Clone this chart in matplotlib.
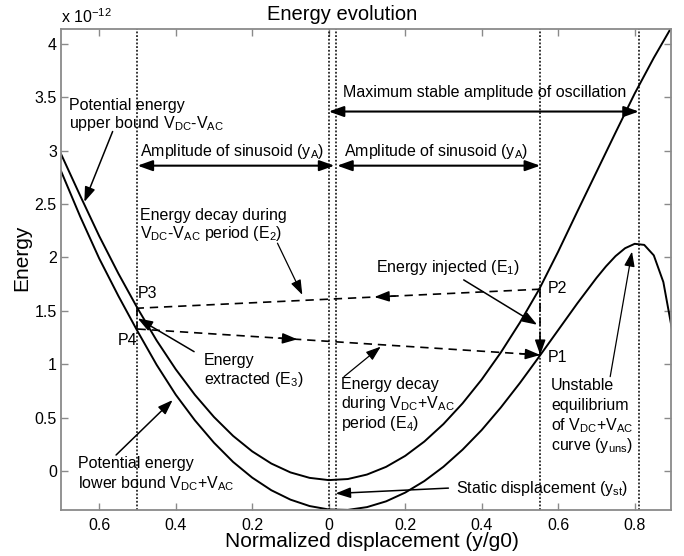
import matplotlib
matplotlib.use('Agg')
import matplotlib.pyplot as plt

plt.rcParams['font.family'] = ['Liberation Sans', 'DejaVu Sans']
plt.rcParams['mathtext.fontset'] = 'custom'
plt.rcParams['mathtext.rm'] = 'Liberation Sans'
plt.rcParams['mathtext.it'] = 'Liberation Sans'
plt.rcParams['mathtext.default'] = 'regular'

# ---------------- data (energy in units of 1e-12) ----------------
x_upper = [-0.70, -0.65, -0.60, -0.55, -0.50, -0.45, -0.40, -0.35, -0.30, -0.25,
           -0.20, -0.15, -0.10, -0.05, 0.00, 0.05, 0.10, 0.15, 0.20, 0.25,
           0.30, 0.35, 0.40, 0.45, 0.50, 0.55, 0.60, 0.65, 0.70, 0.75,
           0.80, 0.85, 0.90]
energy_upper = [2.97, 2.58, 2.20, 1.85, 1.525, 1.223, 0.953, 0.714, 0.506, 0.329,
                0.184, 0.070, -0.013, -0.064, -0.085, -0.075, -0.033, 0.039, 0.142, 0.276,
                0.440, 0.634, 0.857, 1.110, 1.391, 1.700, 2.055, 2.430, 2.800, 3.170,
                3.535, 3.870, 4.180]

x_lower = [-0.70, -0.65, -0.60, -0.55, -0.50, -0.45, -0.40, -0.35, -0.30, -0.25,
           -0.20, -0.15, -0.10, -0.05, 0.00, 0.05, 0.10, 0.15, 0.20, 0.25,
           0.30, 0.35, 0.40, 0.45, 0.50, 0.55, 0.60, 0.65, 0.70, 0.725,
           0.75, 0.775, 0.80, 0.825, 0.85, 0.875, 0.90]
energy_lower = [2.81, 2.385, 1.99, 1.64, 1.31, 0.995, 0.715, 0.475, 0.265, 0.085,
                -0.062, -0.180, -0.268, -0.328, -0.360, -0.364, -0.338, -0.284, -0.202, -0.094,
                0.040, 0.200, 0.384, 0.595, 0.825, 1.07, 1.32, 1.57, 1.808, 1.917,
                2.013, 2.087, 2.128, 2.118, 2.02, 1.77, 1.28]

# key positions (normalized displacement)
y_amp_left = -0.5
y_zero = 0.0
y_static = 0.019
y_amp_right = 0.553
y_unstable = 0.811
vlines_x = [y_amp_left, y_zero, y_static, y_amp_right, y_unstable]

P1 = (0.553, 1.087)
P2 = (0.553, 1.703)
P3 = (-0.5, 1.525)
P4 = (-0.5, 1.33)

xticks = [-0.6, -0.4, -0.2, 0.0, 0.2, 0.4, 0.6, 0.8]
xtick_labels = ['0.6', '0.4', '0.2', '0', '0.2', '0.4', '0.6', '0.8']
yticks = [0, 0.5, 1, 1.5, 2, 2.5, 3, 3.5, 4]
ytick_labels = ['0', '0.5', '1', '1.5', '2', '2.5', '3', '3.5', '4']

# ---------------- figure ----------------
fig = plt.figure(figsize=(6.84, 5.56), dpi=100)
ax = fig.add_axes([61 / 684, 1 - 510 / 556, 610 / 684, 481 / 556])
ax.set_xlim(-0.70, 0.895)
ax.set_ylim(-0.365, 4.14)

for s in ax.spines.values():
    s.set_color('#8a8a8a')
    s.set_linewidth(1.3)
ax.tick_params(direction='in', length=5, width=1, color='#8a8a8a',
               top=True, right=True, labelsize=11.5, labelcolor='k')
ax.tick_params(axis='x', pad=6)
ax.tick_params(axis='y', pad=3)
ax.set_xticks(xticks)
ax.set_xticklabels(xtick_labels)
ax.set_yticks(yticks)
ax.set_yticklabels(ytick_labels)

# curves
ax.plot(x_upper, energy_upper, color='k', lw=1.4, solid_joinstyle='round')
ax.plot(x_lower, energy_lower, color='k', lw=1.4, solid_joinstyle='round')

# dotted verticals
for xv in vlines_x:
    ax.axvline(xv, color='k', lw=1.1, ls=(0, (1.2, 1.2)))

# dashed energy paths
dash = (0, (5, 3.5))
ax.plot([P2[0], P3[0]], [P2[1], P3[1]], color='k', lw=1.2, ls=dash)
ax.plot([P4[0], P1[0]], [P4[1], P1[1]], color='k', lw=1.2, ls=dash)
ax.plot([P2[0], P1[0]], [P2[1], P1[1]], color='k', lw=1.2, ls=dash)
ax.plot([P3[0], P4[0]], [P3[1], P4[1]], color='k', lw=1.2, ls=dash)

AST = '-|>,head_length=0.9,head_width=0.32'
DST = '<|-|>,head_length=0.9,head_width=0.32'


def arrow(tip, tail, style=AST, lw=1.1):
    ax.annotate('', xy=tip, xytext=tail,
                arrowprops=dict(arrowstyle=style, color='k', lw=lw,
                                shrinkA=0, shrinkB=0, mutation_scale=10))


def point_on(a, b, t):
    return (a[0] + (b[0] - a[0]) * t, a[1] + (b[1] - a[1]) * t)


# heads along the dashed lines
tip = point_on(P2, P3, 0.412)
arrow(tip, point_on(P2, P3, 0.36))
tip = point_on(P4, P1, 0.397)
arrow(tip, point_on(P4, P1, 0.35))
arrow(P1, point_on(P4, P1, 0.95))
arrow(P1, (P1[0], P1[1] + 0.15))

# double arrows
arrow((y_unstable, 3.367), (0.0, 3.367), style=DST, lw=1.5)
arrow((0.015, 2.86), (y_amp_left, 2.86), style=DST, lw=1.5)
arrow((y_amp_right, 2.86), (0.022, 2.86), style=DST, lw=1.5)

# annotation arrows
arrow((-0.639, 2.52), (-0.565, 3.18))
arrow((-0.069, 1.65), (-0.134, 2.134), lw=0.9)
arrow((0.545, 1.37), (0.353, 1.79))
arrow((-0.4995, 1.43), (-0.352, 1.118))
arrow((0.136, 1.165), (0.04, 0.884), lw=0.9)
arrow((0.793, 2.055), (0.736, 0.884), lw=0.9)
arrow((0.018, -0.21), (0.313, -0.16))
arrow((-0.408, 0.665), (-0.556, 0.15))

FS = 11.5
DCmAC = r'V$_{DC}$-V$_{AC}$'
DCpAC = r'V$_{DC}$+V$_{AC}$'
texts = [
    (-0.679, 3.383, 'Potential energy'),
    (-0.679, 3.21, 'upper bound ' + DCmAC),
    (-0.493, 2.952, r'Amplitude of sinusoid (y$_{A}$)'),
    (0.040, 2.952, r'Amplitude of sinusoid (y$_{A}$)'),
    (0.037, 3.50, 'Maximum stable amplitude of oscillation'),
    (-0.493, 2.352, 'Energy decay during'),
    (-0.493, 2.18, DCmAC + r' period (E$_{2}$)'),
    (0.123, 1.868, r'Energy injected (E$_{1}$)'),
    (0.573, 1.665, 'P2'),
    (0.573, 1.025, 'P1'),
    (-0.499, 1.619, 'P3'),
    (-0.551, 1.181, 'P4'),
    (-0.326, 0.993, 'Energy'),
    (-0.326, 0.815, r'extracted (E$_{3}$)'),
    (0.031, 0.766, 'Energy decay'),
    (0.031, 0.588, 'during ' + DCpAC),
    (0.031, 0.40, r'period (E$_{4}$)'),
    (0.581, 0.759, 'Unstable'),
    (0.581, 0.572, 'equilibrium'),
    (0.581, 0.384, 'of ' + DCpAC),
    (0.581, 0.197, r'curve (y$_{uns}$)'),
    (0.332, -0.209, r'Static displacement (y$_{st}$)'),
    (-0.655, 0.025, 'Potential energy'),
    (-0.655, -0.162, 'lower bound ' + DCpAC),
]
for tx, ty, s in texts:
    ax.text(tx, ty, s, fontsize=FS, ha='left', va='baseline', color='k')

fig.text(0.5, 1 - 20 / 556, 'Energy evolution', ha='center', va='baseline', fontsize=14.5)
fig.text(61 / 684, 1 - 23.3 / 556, r'x 10$^{-12}$', ha='left', va='baseline', fontsize=11.5)
fig.text(372 / 684, 1 - 547 / 556, 'Normalized displacement (y/g0)', ha='center',
         va='baseline', fontsize=15)
fig.text(22 / 684, 1 - 258 / 556, 'Energy', rotation=90, ha='center', va='center', fontsize=15)

fig.savefig('out.png', dpi=100)
